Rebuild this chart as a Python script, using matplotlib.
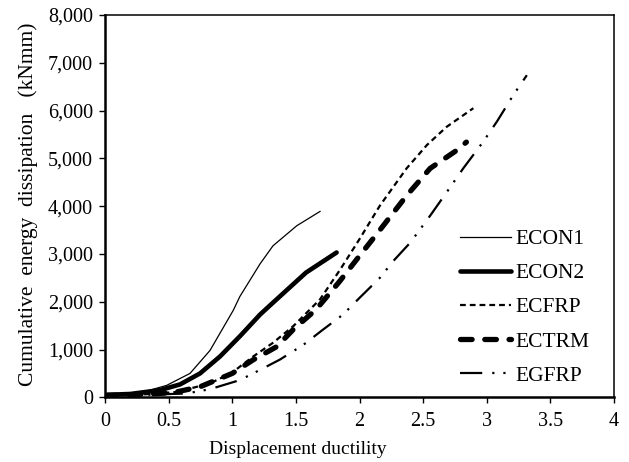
import matplotlib
matplotlib.use("Agg")
import matplotlib.pyplot as plt
from matplotlib.ticker import FuncFormatter, MultipleLocator

plt.rcParams['font.family'] = ['Liberation Serif', 'DejaVu Serif']

econ1_x = [0, 0.2, 0.30, 0.485, 0.668, 0.825, 1.008, 1.06, 1.218, 1.32, 1.507, 1.69]
econ1_y = [50, 70, 110, 250, 500, 980, 1820, 2110, 2790, 3170, 3590, 3890]

econ2_x = [0, 0.2, 0.432, 0.59, 0.747, 0.904, 1.061, 1.218, 1.32, 1.58, 1.82]
econ2_y = [50, 70, 150, 270, 500, 855, 1280, 1730, 1980, 2610, 3030]

ecfrp_x = [0, 0.3, 0.56, 0.825, 1.0, 1.165, 1.32, 1.48, 1.69, 1.85, 2.0, 2.16, 2.37, 2.53, 2.685, 2.895]
ecfrp_y = [40, 60, 110, 290, 520, 855, 1140, 1490, 2050, 2680, 3310, 4010, 4790, 5280, 5660, 6050]

ectrm_x = [0, 0.3, 0.54, 0.747, 1.0, 1.165, 1.35, 1.48, 1.66, 1.845, 2.0, 2.16, 2.37, 2.555, 2.765, 2.84]
ectrm_y = [40, 60, 100, 220, 500, 785, 1060, 1420, 1840, 2430, 2960, 3500, 4220, 4790, 5170, 5340]

egfrp_x = [0, 0.3, 0.64, 0.825, 1.06, 1.245, 1.375, 1.56, 1.715, 1.87, 2.0, 2.16, 2.265, 2.40,
           2.555, 2.685, 2.815, 2.97, 3.08, 3.21, 3.315]
egfrp_y = [40, 50, 80, 170, 360, 610, 790, 1100, 1420, 1730, 2080, 2500, 2850, 3240,
           3800, 4290, 4790, 5340, 5770, 6330, 6740]

fig = plt.figure(figsize=(6.29, 4.62), dpi=100)
ax = fig.add_axes([105/629, 1-397.3/462, (614-105)/629, (397.3-15)/462])

ax.plot(econ1_x, econ1_y, color='black', lw=0.9, label='ECON1')
ax.plot(econ2_x, econ2_y, color='black', lw=3.3, solid_capstyle='round', label='ECON2')
ax.plot(ecfrp_x, ecfrp_y, color='black', lw=1.6, dashes=(2.6, 1.8), label='ECFRP')
ax.plot(ectrm_x, ectrm_y, color='black', lw=3.8, dashes=(2.2, 2.4),
        dash_capstyle='round', label='ECTRM')
ax.plot(egfrp_x, egfrp_y, color='black', lw=1.6, dashes=(10, 4.5, 1, 4, 1, 4.5), label='EGFRP')

ax.set_xlim(0, 4)
ax.set_ylim(0, 8000)
ax.xaxis.set_major_locator(MultipleLocator(0.5))
ax.yaxis.set_major_locator(MultipleLocator(1000))
ax.xaxis.set_major_formatter(FuncFormatter(lambda v, p: f"{v:g}"))
ax.yaxis.set_major_formatter(FuncFormatter(lambda v, p: f"{int(v):,}"))
ax.tick_params(direction='out', length=4.5, width=1, labelsize=14.5, colors='black', pad=4)
ax.tick_params(axis='x', pad=6)
for s in ax.spines.values():
    s.set_linewidth(1.1)
ax.spines['left'].set_linewidth(1.8)
ax.spines['bottom'].set_linewidth(1.8)

ax.set_xlabel('Displacement ductility', fontsize=14)
ax.xaxis.set_label_coords((298-105)/509, -(449-397.3)/382.3)
ax.xaxis.label.set_va('center')
ax.set_ylabel('Cumulative  energy  dissipation   (kNmm)', fontsize=15.5)
ax.yaxis.set_label_coords(-(105-28)/509, 0.505)
ax.yaxis.label.set_va('center')

leg = ax.legend(loc='center left', bbox_to_anchor=(0.66, 0.235), frameon=False,
                fontsize=15.5, handlelength=2.35, handletextpad=0.2, labelspacing=0.65)

fig.savefig('out.png', dpi=100)
